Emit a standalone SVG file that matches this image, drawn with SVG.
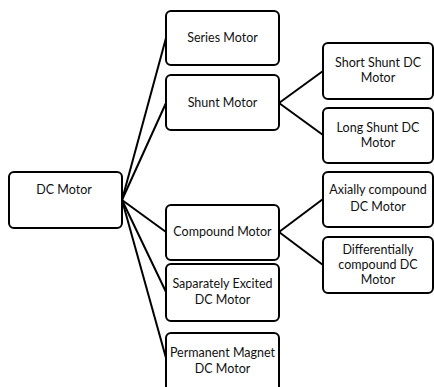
<svg xmlns="http://www.w3.org/2000/svg" width="434" height="387" viewBox="0 0 434 387">
<style>
.box{fill:#fff;stroke:#000;stroke-width:2}
.t{font-family:Lato,"Liberation Sans",sans-serif;font-size:12.5px;fill:#111;text-anchor:middle}
.c{stroke:#000;stroke-width:2;fill:none}
</style>
<rect width="434" height="387" fill="#fff"/>
<g id="connectors">
<line class="c" x1="122" y1="200" x2="166" y2="38"/>
<line class="c" x1="122" y1="200" x2="166" y2="103"/>
<line class="c" x1="122" y1="200" x2="166" y2="232"/>
<line class="c" x1="122" y1="200" x2="166" y2="292"/>
<line class="c" x1="122" y1="200" x2="166" y2="358"/>
<line class="c" x1="279" y1="103" x2="323" y2="71"/>
<line class="c" x1="279" y1="103" x2="323" y2="135"/>
<line class="c" x1="279" y1="232" x2="323" y2="199"/>
<line class="c" x1="279" y1="232" x2="323" y2="265"/>
</g>
<g id="dc-motor"><rect class="box" x="9" y="172" width="113" height="56" rx="5"/><text class="t" x="64" y="194">DC Motor</text></g>
<g id="series"><rect class="box" x="166" y="11" width="113" height="54" rx="5"/><text class="t" x="222.5" y="42">Series Motor</text></g>
<g id="shunt"><rect class="box" x="166" y="75" width="113" height="55" rx="5"/><text class="t" x="222.5" y="107">Shunt Motor</text></g>
<g id="compound"><rect class="box" x="166" y="205" width="113" height="55" rx="5"/><text class="t" x="222.5" y="236">Compound Motor</text></g>
<g id="separately"><rect class="box" x="166" y="264" width="113" height="57" rx="5"/><text class="t" x="222.5" y="288">Saparately Excited</text><text class="t" x="222.5" y="304">DC Motor</text></g>
<g id="permanent"><rect class="box" x="166" y="333" width="113" height="60" rx="5"/><text class="t" x="222.5" y="357">Permanent Magnet</text><text class="t" x="222.5" y="373">DC Motor</text></g>
<g id="short-shunt"><rect class="box" x="323" y="43" width="110" height="56" rx="5"/><text class="t" x="378" y="67">Short Shunt DC</text><text class="t" x="378" y="82">Motor</text></g>
<g id="long-shunt"><rect class="box" x="323" y="108" width="110" height="55" rx="5"/><text class="t" x="378" y="132">Long Shunt DC</text><text class="t" x="378" y="147">Motor</text></g>
<g id="axially"><rect class="box" x="323" y="172" width="110" height="55" rx="5"/><text class="t" x="378" y="194">Axially compound</text><text class="t" x="378" y="211">DC Motor</text></g>
<g id="differentially"><rect class="box" x="323" y="237" width="110" height="56" rx="5"/><text class="t" x="378" y="254">Differentially</text><text class="t" x="378" y="269">compound DC</text><text class="t" x="378" y="284">Motor</text></g>
</svg>
